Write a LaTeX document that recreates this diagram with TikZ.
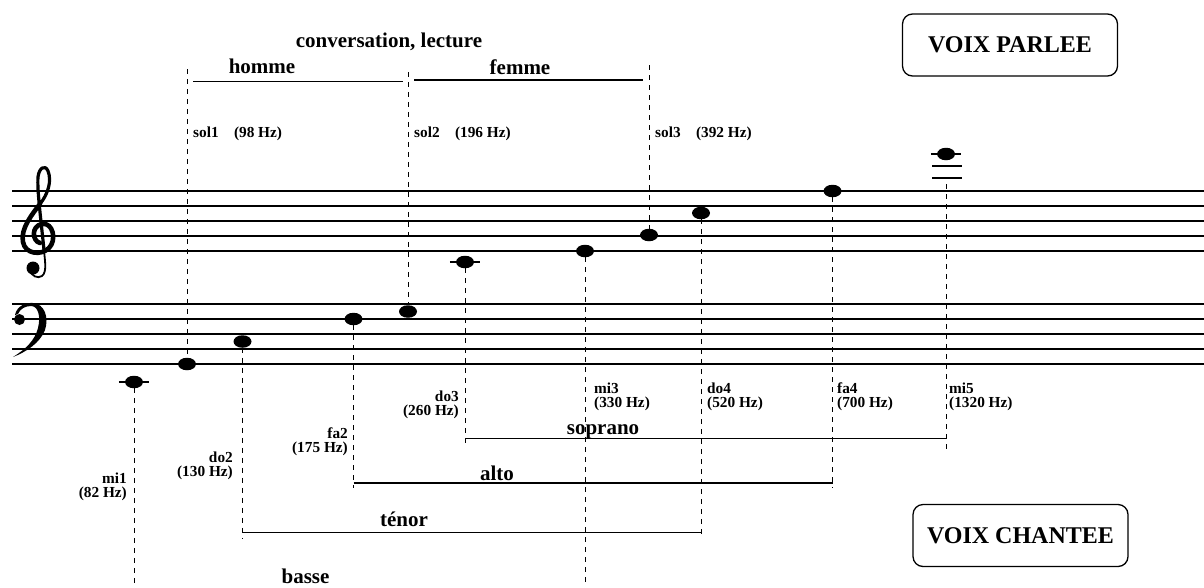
\documentclass[tikz,border=0pt]{standalone}
\usepackage{fontspec}
\setmainfont{Liberation Serif}
\usetikzlibrary{shapes.geometric}

\begin{document}
\begin{tikzpicture}[
    x=1pt, y=-1pt,
    every node/.style={inner sep=0pt, font=\bfseries},
    notehead/.style={ellipse, fill, minimum width=18pt, minimum height=12.5pt},
    staffline/.style={line width=1.3pt},
    ledgerline/.style={line width=2.8pt},
    guideline/.style={dash pattern=on 5pt off 5pt, line width=0.9pt},
    rangeline/.style={line width=1.4pt},
    clefstroke/.style={line cap=round, line join=round},
    hzlabel/.style={font=\bfseries\fontsize{15.3}{14.5}\selectfont},
    partlabel/.style={font=\bfseries\fontsize{21}{24}\selectfont, anchor=base},
    voixbox/.style={draw, rounded corners=10pt, line width=1.3pt, minimum width=215pt, minimum height=62pt, font=\bfseries\fontsize{24}{28}\selectfont}
]
\useasboundingbox (0,0) rectangle (1204,587);

% Staves
\foreach \y in {191,206,221,236,251} \draw[staffline] (12,\y) -- (1204,\y);
\foreach \y in {304,319,334,349,364} \draw[staffline] (12,\y) -- (1204,\y);

% Clefs
\draw[clefstroke, line width=4.6pt] (40,243) .. controls (32,241) and (31,226) .. (42,224)
  .. controls (53,222) and (57,240) .. (49,248)
  .. controls (41,256) and (25,254) .. (23,242)
  .. controls (20,229) and (33,213) .. (40,204);
\draw[clefstroke, line width=3.2pt] (40,204) .. controls (48,194) and (52,181) .. (48,171)
  .. controls (45,164) and (39,168) .. (38,177)
  .. controls (37,190) and (41,220) .. (44,250);
\draw[clefstroke, line width=1.8pt] (44,250) .. controls (45,262) and (47,272) .. (42,276)
  .. controls (38,279) and (31,276) .. (30,270);
\fill (33,268) circle (6.5);
\fill (15,315) .. controls (17,305) and (27,302.5) .. (33,303)
  .. controls (45,304) and (49,318) .. (45,330)
  .. controls (40,343) and (26,352) .. (13,357)
  .. controls (26,349) and (35,340) .. (38,328)
  .. controls (41,316) and (38,306) .. (31,306)
  .. controls (25,306) and (20,309) .. (18,314) -- cycle;
\fill (19.5,319.5) circle (5.5);

% Notes
\node[notehead] (mi1) at (134,382) {};
\node[notehead] (sol1) at (187,364) {};
\node[notehead] (do2) at (242.5,341.5) {};
\node[notehead] (fa2) at (353.5,319) {};
\node[notehead] (sol2) at (408,311.5) {};
\node[notehead] (do3) at (465,262) {};
\node[notehead] (mi3) at (585,251) {};
\node[notehead] (sol3) at (649,235) {};
\node[notehead] (do4) at (701,213) {};
\node[notehead] (fa4) at (832.5,191) {};
\node[notehead] (mi5) at (946,154) {};

% Ledger lines
\draw[ledgerline] ([xshift=-6pt]mi1.west) -- ([xshift=6pt]mi1.east);
\draw[ledgerline] ([xshift=-6pt]do3.west) -- ([xshift=6pt]do3.east);
\draw[ledgerline] ([xshift=-6pt]mi5.west) -- ([xshift=6pt]mi5.east);
\draw[ledgerline] (932,166) -- (962,166);
\draw[ledgerline] (932,178) -- (962,178);

% Ends of the dashed lines
\coordinate (mi1-end) at (134,587);
\coordinate (sol1-top) at (187,69);
\coordinate (do2-end) at (242.5,538);
\coordinate (fa2-end) at (353.5,488);
\coordinate (sol2-top) at (408,72);
\coordinate (do3-end) at (465,448);
\coordinate (mi3-end) at (585,587);
\coordinate (sol3-top) at (649,65);
\coordinate (do4-end) at (701,534);
\coordinate (fa4-end) at (832.5,488);
\coordinate (mi5-top) at (946,184);
\coordinate (mi5-end) at (946,453);

% Dashed lines
\draw[guideline] (mi1) -- (mi1-end);
\draw[guideline] (sol1-top) -- (sol1);
\draw[guideline] (do2) -- (do2-end);
\draw[guideline] (fa2) -- (fa2-end);
\draw[guideline] (sol2-top) -- (sol2);
\draw[guideline] (do3) -- (do3-end);
\draw[guideline] (mi3) -- (mi3-end);
\draw[guideline] (sol3-top) -- (sol3);
\draw[guideline] (do4) -- (do4-end);
\draw[guideline] (fa4) -- (fa4-end);
\draw[guideline] (mi5-top) -- (mi5-end);

% Ranges
\coordinate (homme-a) at (193,81.5);
\coordinate (homme-b) at (403,81.5);
\coordinate (femme-a) at (414,80);
\coordinate (femme-b) at (643,80);
\coordinate (soprano-a) at (466,438.5);
\coordinate (soprano-b) at (946.5,438.5);
\coordinate (alto-a) at (353.5,483);
\coordinate (alto-b) at (832.5,483);
\coordinate (tenor-a) at (243,532.5);
\coordinate (tenor-b) at (701,532.5);
\draw[rangeline] (homme-a) -- (homme-b);
\draw[rangeline] (femme-a) -- (femme-b);
\draw[rangeline] (soprano-a) -- (soprano-b);
\draw[rangeline] (alto-a) -- (alto-b);
\draw[rangeline] (tenor-a) -- (tenor-b);

% Labels
\node[partlabel] (conv) at (389,47) {conversation, lecture};
\node[partlabel] (homme) at (262,73) {homme};
\node[partlabel] (femme) at (520,74) {femme};
\node[partlabel] (soprano) at (603,434) {soprano};
\node[partlabel] (alto) at (497,480) {alto};
\node[partlabel] (tenor) at (404,526) {ténor};
\node[partlabel] (basse) at (305.5,583) {basse};

\node[hzlabel, anchor=base west] (sol1-lab) at (193,137) {sol1\quad(98 Hz)};
\node[hzlabel, anchor=base west] (sol2-lab) at (414,137) {sol2\quad(196 Hz)};
\node[hzlabel, anchor=base west] (sol3-lab) at (655,137) {sol3\quad(392 Hz)};

\node[hzlabel, anchor=north east, align=right] (mi1-lab) at (127,472.5) {mi1\\(82 Hz)};
\node[hzlabel, anchor=north east, align=right] (do2-lab) at (233,451.5) {do2\\(130 Hz)};
\node[hzlabel, anchor=north east, align=right] (fa2-lab) at (348,427.5) {fa2\\(175 Hz)};
\node[hzlabel, anchor=north east, align=right] (do3-lab) at (459,390.5) {do3\\(260 Hz)};
\node[hzlabel, anchor=north west, align=left] (mi3-lab) at (594,382.5) {mi3\\(330 Hz)};
\node[hzlabel, anchor=north west, align=left] (do4-lab) at (707,382.5) {do4\\(520 Hz)};
\node[hzlabel, anchor=north west, align=left] (fa4-lab) at (837,382.5) {fa4\\(700 Hz)};
\node[hzlabel, anchor=north west, align=left] (mi5-lab) at (949,382.5) {mi5\\(1320 Hz)};

% Boxes
\node[voixbox] (parlee) at (1010,45) {VOIX PARLEE};
\node[voixbox] (chantee) at (1020.5,535.5) {VOIX CHANTEE};

\end{tikzpicture}
\end{document}
